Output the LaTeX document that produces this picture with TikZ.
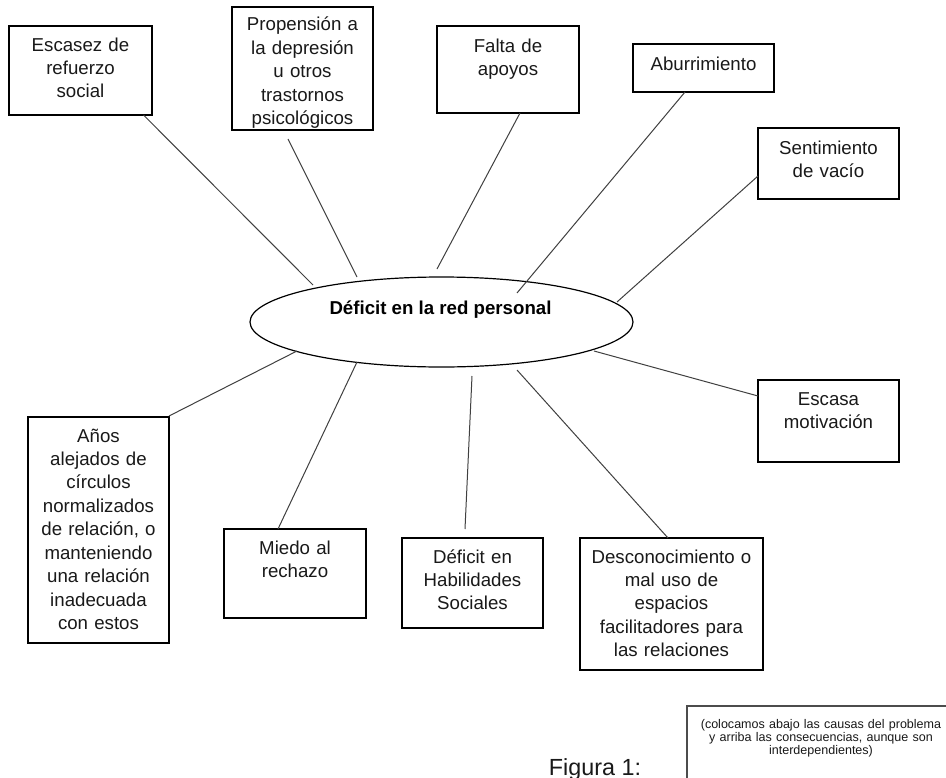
\documentclass[tikz,border=0pt]{standalone}
\usepackage{fontspec}
\setmainfont{Liberation Sans}
\usetikzlibrary{shapes.geometric,calc}
\begin{document}
\begin{tikzpicture}[x=0.75pt,y=-0.75pt,
  boxn/.style={draw=black, line width=0.9pt, rectangle, inner sep=0pt, outer sep=0pt},
  sz/.style 2 args={minimum width=#1*0.75pt, minimum height=#2*0.75pt},
  txt/.style={anchor=base, inner sep=0pt, align=center, text width=150pt, text=black!90, font=\fontsize{14}{17.6}\selectfont},
  conn/.style={draw=black!75, line width=0.75pt},
  notetxt/.style={anchor=base, inner sep=0pt, align=center, text width=200pt, text=black!90, font=\fontsize{9.4}{10.1}\selectfont}]
\useasboundingbox[fill=white] (0,0) rectangle (946,778);

% central ellipse
\node[ellipse, draw=black, line width=0.9pt, sz={383}{90}, inner sep=0pt] (main) at (441.5,322) {};
\node[anchor=base, inner sep=0pt, font=\fontsize{14}{16}\selectfont\bfseries] (maint) at (440.5,314) {Déficit en la red personal};

% boxes
\node[boxn, sz={143}{89}] (esc) at (80.5,70.5) {};
\node[boxn, sz={141}{123}] (prop) at (302.5,68.5) {};
\node[boxn, sz={142}{87}] (falta) at (508,69.5) {};
\node[boxn, sz={141}{48}] (abu) at (703.5,68) {};
\node[boxn, sz={141}{71}] (sent) at (828.5,163.5) {};
\node[boxn, sz={141}{82}] (moti) at (828.5,421) {};
\node[boxn, sz={141}{226}] (anos) at (98.5,530) {};
\node[boxn, sz={142}{89}] (miedo) at (295,573.5) {};
\node[boxn, sz={141}{90}] (hab) at (472.5,583) {};
\node[boxn, sz={183}{132}] (desc) at (671.5,604) {};

% texts
\node[txt] (esct) at ($(esc.north)+(0,25)$) {Escasez de\\refuerzo\\social};
\node[txt] (propt) at ($(prop.north)+(0,24)$) {Propensión a\\la depresión\\u otros\\trastornos\\psicológicos};
\node[txt] (faltat) at ($(falta.north)+(0,26)$) {Falta de\\apoyos};
\node[txt] (abut) at ($(abu.north)+(0,26)$) {Aburrimiento};
\node[txt] (sentt) at ($(sent.north)+(0,26)$) {Sentimiento\\de vacío};
\node[txt] (motit) at ($(moti.north)+(0,25)$) {Escasa\\motivación};
\node[txt] (anost) at ($(anos.north)+(0,25)$) {Años\\alejados de\\círculos\\normalizados\\de relación, o\\manteniendo\\una relación\\inadecuada\\con estos};
\node[txt] (miedot) at ($(miedo.north)+(0,25)$) {Miedo al\\rechazo};
\node[txt] (habt) at ($(hab.north)+(0,25)$) {Déficit en\\Habilidades\\Sociales};
\node[txt] (desct) at ($(desc.north)+(0,25)$) {Desconocimiento o\\mal uso de\\espacios\\facilitadores para\\las relaciones};

% ellipse-side ends of connectors
\coordinate (c1) at (313,285);
\coordinate (c2) at (357,277);
\coordinate (c3) at (437,269);
\coordinate (c4) at (517,293);
\coordinate (c5) at (617,302);
\coordinate (c6) at (594,351);
\coordinate (c7) at (297,351);
\coordinate (c8) at (357,362);
\coordinate (c9) at (472,376);
\coordinate (c10) at (517,370);

\draw[conn] ($(esc.south)+(63,0)$) -- (c1);
\draw[conn] ($(prop.south)+(-14.5,9)$) -- (c2);
\draw[conn] ($(falta.south)+(12,0)$) -- (c3);
\draw[conn] ($(abu.south)+(-18.5,0)$) -- (c4);
\draw[conn] ($(sent.west)+(0,12.5)$) -- (c5);
\draw[conn] ($(moti.west)+(0,-25)$) -- (c6);
\draw[conn] ($(anos.north east)+(0,-1)$) -- (c7);
\draw[conn] ($(miedo.north)+(-17,0)$) -- (c8);
\draw[conn] ($(hab.north)+(-7.5,-9)$) -- (c9);
\draw[conn] ($(desc.north)+(-3.5,0)$) -- (c10);

% caption
\node[anchor=base, inner sep=0pt, text=black!90, font=\fontsize{17.5}{20}\selectfont] (fig) at (595,775) {Figura 1:};

% note box, cut by the picture's edge
\begin{scope}
\clip (0,0) rectangle (946,778);
\node[draw=black!70, line width=1pt, rectangle, inner sep=0pt, outer sep=0pt, sz={268}{94}] (note) at (821,753) {};
\node[notetxt] (notet) at (821,728) {(colocamos abajo las causas del problema\\y arriba las consecuencias, aunque son\\interdependientes)};
\end{scope}
\end{tikzpicture}
\end{document}
